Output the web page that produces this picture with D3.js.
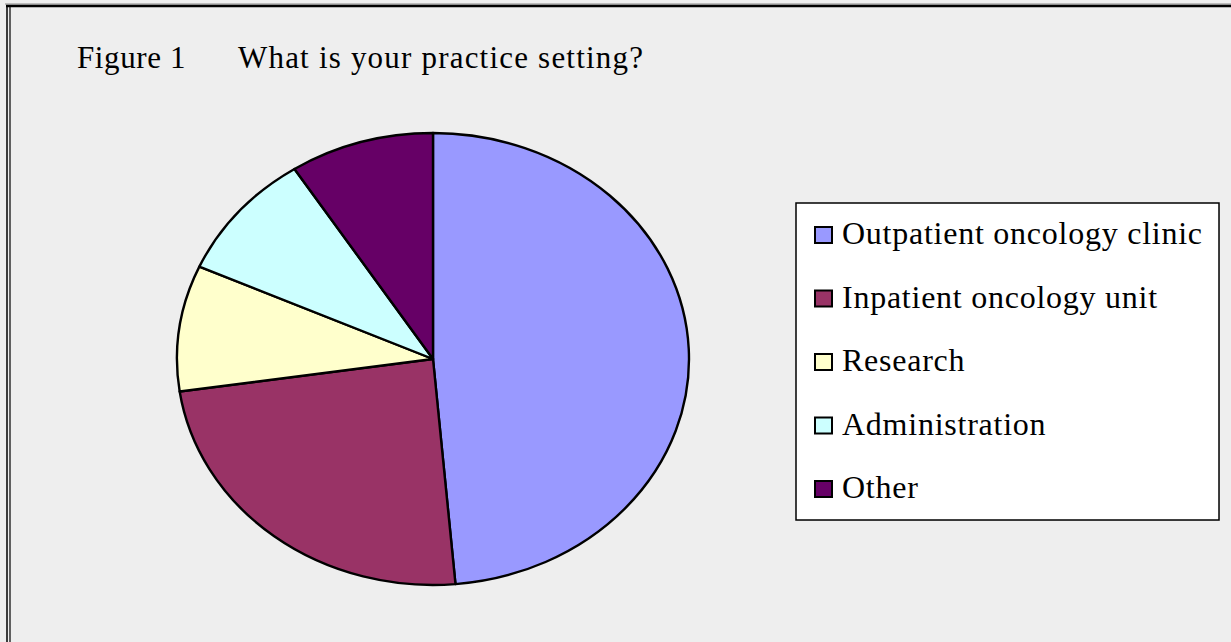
<!DOCTYPE html>
<html>
<head>
<meta charset="utf-8">
<script src="https://cdn.jsdelivr.net/npm/d3@7/dist/d3.min.js"></script>
<style>
  html, body { margin: 0; padding: 0; background: #EEEEEE; }
  svg { display: block; }
  text { font-family: "Liberation Serif", "DejaVu Serif", serif; fill: #000; }
</style>
</head>
<body>
<svg id="chart" width="1231" height="642"></svg>
<script>
const categories = ["Outpatient oncology clinic", "Inpatient oncology unit", "Research", "Administration", "Other"];
const values = [48.6, 24.1, 9.0, 9.2, 9.1];
const colors = ["#9999FF", "#993366", "#FFFFCC", "#CCFFFF", "#660066"];
const titleLabel = "Figure 1";
const titleText = "What is your practice setting?";

const svg = d3.select("#chart");
const W = 1231, H = 642;

svg.append("rect").attr("x", 0).attr("y", 0).attr("width", W).attr("height", H).attr("fill", "#EEEEEE");

// frame lines
svg.append("line").attr("x1", 5).attr("x2", W).attr("y1", 4).attr("y2", 4).attr("stroke", "#888").attr("stroke-width", 1);
svg.append("line").attr("x1", 6).attr("x2", W).attr("y1", 6).attr("y2", 6).attr("stroke", "#000").attr("stroke-width", 2.5);
svg.append("line").attr("x1", 7).attr("x2", 7).attr("y1", 5).attr("y2", H).attr("stroke", "#000").attr("stroke-width", 1.5);
svg.append("line").attr("x1", 10).attr("x2", 10).attr("y1", 7).attr("y2", H).attr("stroke", "#000").attr("stroke-width", 1.2);

// title
svg.append("text").attr("x", 77).attr("y", 68).attr("font-size", 31).attr("letter-spacing", 0.6).text(titleLabel);
svg.append("text").attr("x", 238).attr("y", 68).attr("font-size", 31).attr("letter-spacing", 1.2).text(titleText);

// pie
const cx = 433, cy = 359, rx = 256, ry = 226;
const pie = d3.pie().sort(null).value(d => d.v);
const data = categories.map((c, i) => ({ c, v: values[i], col: colors[i] }));
const arc = d3.arc().innerRadius(0).outerRadius(ry);
const g = svg.append("g").attr("transform", `translate(${cx},${cy}) scale(${rx / ry},1)`);
g.selectAll("path").data(pie(data)).join("path")
  .attr("d", arc)
  .attr("fill", d => d.data.col)
  .attr("stroke", "#000")
  .attr("stroke-width", 2.4)
  .attr("stroke-linejoin", "round")
  .attr("vector-effect", "non-scaling-stroke");

// legend
const lx = 796, ly = 203, lw = 423, lh = 317;
svg.append("rect").attr("x", lx + 1).attr("y", ly + 1).attr("width", lw).attr("height", lh).attr("fill", "#ddd");
svg.append("rect").attr("x", lx).attr("y", ly).attr("width", lw).attr("height", lh)
  .attr("fill", "#fff").attr("stroke", "#000").attr("stroke-width", 1.5);
const rowY = d3.scalePoint().domain(categories).range([0, 254]);
const lg = svg.append("g").selectAll("g").data(data).join("g")
  .attr("transform", d => `translate(0,${rowY(d.c)})`);
lg.append("rect").attr("x", 815).attr("y", 227).attr("width", 17).attr("height", 16)
  .attr("fill", d => d.col).attr("stroke", "#000").attr("stroke-width", 2);
lg.append("text").attr("x", 842).attr("y", 244).attr("font-size", 32).attr("letter-spacing", 0.75).text(d => d.c);
</script>
</body>
</html>
